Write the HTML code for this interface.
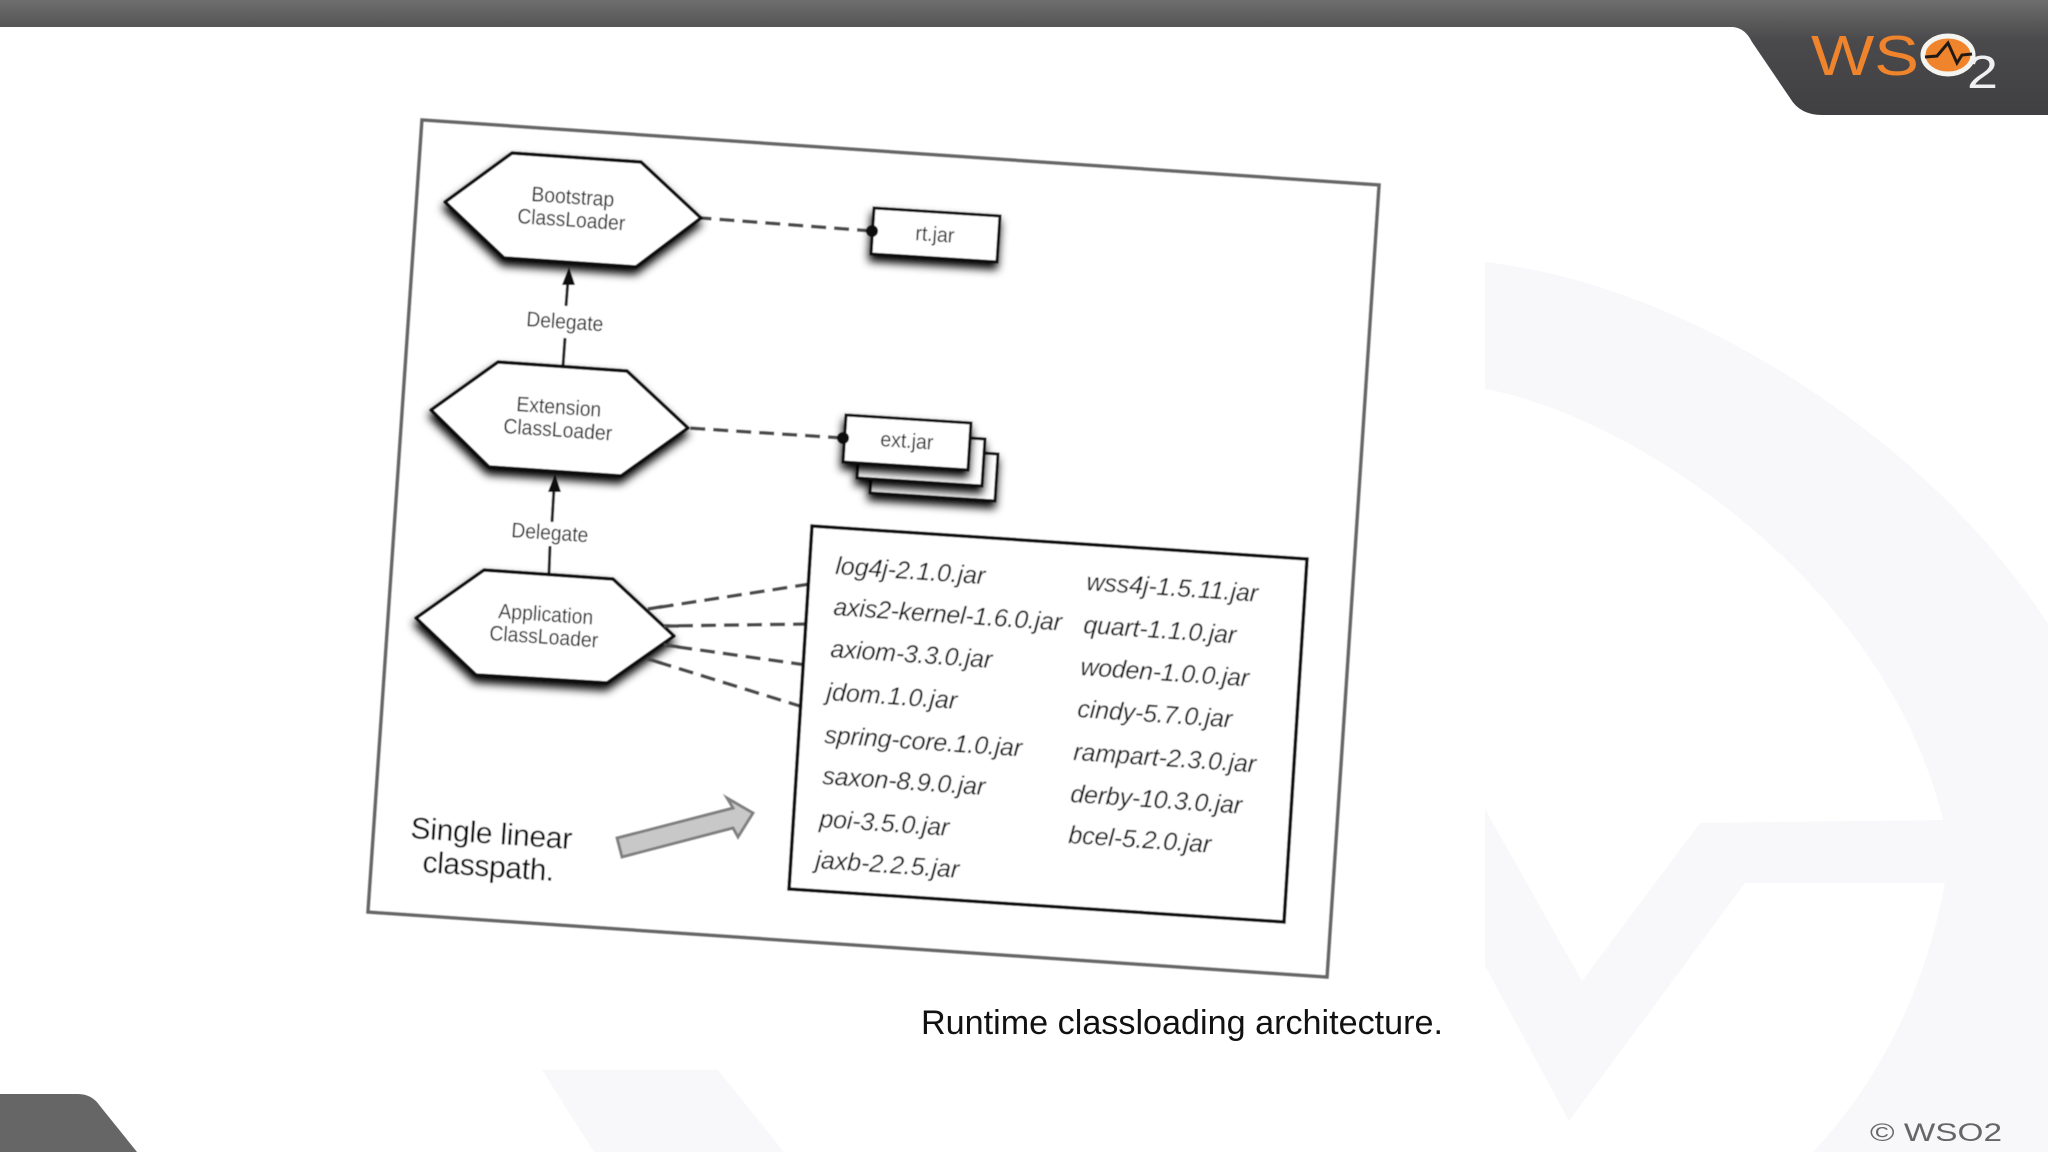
<!DOCTYPE html>
<html>
<head>
<meta charset="utf-8">
<title>Runtime classloading architecture</title>
<style>
html,body{margin:0;padding:0;background:#fff;width:2048px;height:1152px;overflow:hidden}
svg{display:block}
text{font-family:"Liberation Sans",sans-serif}
.lbl{font-size:21px;fill:#222}
.jar{font-size:25px;font-style:italic;fill:#111}
.hex{fill:#fff;stroke:#0a0a0a;stroke-width:3.5;stroke-linejoin:round}
.box{fill:#fff;stroke:#0a0a0a;stroke-width:3}
.dash{stroke:#4a4a4a;stroke-width:3.5;stroke-dasharray:15 8;fill:none}
</style>
</head>
<body>
<svg width="2048" height="1152" viewBox="0 0 2048 1152" xmlns="http://www.w3.org/2000/svg">
<defs>
<linearGradient id="corner" gradientUnits="userSpaceOnUse" x1="0" y1="0" x2="0" y2="115">
<stop offset="0" stop-color="#6e6e6e"/><stop offset=".35" stop-color="#4a494b"/><stop offset="1" stop-color="#403f41"/>
</linearGradient>
<filter id="sh" x="-20%" y="-20%" width="140%" height="160%">
<feDropShadow dx="-1" dy="6" stdDeviation="4.5" flood-color="#000" flood-opacity="1"/>
</filter>
<filter id="soft" x="-5%" y="-5%" width="110%" height="110%"><feGaussianBlur stdDeviation=".55"/></filter>
</defs>

<!-- watermark -->
<g fill="#f8f8fa">
<path d="M1485 262 C1690 285 1930 440 2048 624 L2048 1152 L1813 1152 C1880 1080 1925 990 1945 883 L1745 883 L1569 1121 L1485 966 L1485 809 L1582 981 L1700 823 L1943 820 C1885 580 1630 415 1485 389 Z"/>
<polygon points="542,1070 718,1070 784,1152 594,1152"/>
</g>

<!-- header -->
<rect x="0" y="0" width="2048" height="27" fill="url(#corner)"/>
<path d="M1733 27 Q1745 28 1752 42 L1790 98 Q1800 115 1822 115 L2048 115 L2048 0 L1700 0 L1700 27 Z" fill="url(#corner)"/>

<!-- logo -->
<text x="1811" y="75" font-size="57" fill="#f0842c" textLength="108" lengthAdjust="spacingAndGlyphs">WS</text>
<ellipse cx="1948" cy="55" rx="25" ry="19" fill="#f0842c" stroke="#f4f4f0" stroke-width="5"/>
<polyline points="1925,57 1937,56 1948,43 1957,63 1962,55 1972,54" fill="none" stroke="#221a14" stroke-width="3"/>
<text x="1967" y="88" font-size="46" fill="#f0f0f0" textLength="31" lengthAdjust="spacingAndGlyphs">2</text>

<!-- footer -->
<path d="M0 1094 L78 1094 Q92 1094 100 1106 L137 1152 L0 1152 Z" fill="#666"/>
<text x="1870" y="1141" font-size="25" fill="#666" textLength="132" lengthAdjust="spacingAndGlyphs">© WSO2</text>

<!-- diagram -->
<g filter="url(#soft)">
<polygon points="422,120 1379,185 1327,977 368,912" fill="#fff" stroke="#666" stroke-width="3.5"/>

<!-- connectors (drawn from far end so a dash meets the target) -->
<line x1="872" y1="231" x2="701" y2="218" class="dash"/>
<line x1="843" y1="438" x2="688" y2="428" class="dash"/>
<line x1="810" y1="584" x2="648" y2="609" class="dash"/>
<line x1="808" y1="624" x2="664" y2="626" class="dash"/>
<line x1="806" y1="665" x2="664" y2="645" class="dash"/>
<line x1="803" y1="707" x2="648" y2="659" class="dash"/>

<!-- arrows -->
<line x1="566" y1="306" x2="568" y2="280" stroke="#222" stroke-width="3"/>
<line x1="563" y1="366" x2="565" y2="338" stroke="#222" stroke-width="3"/>
<polygon points="569,267 575,285 562,285" fill="#111"/>
<line x1="552" y1="522" x2="554" y2="488" stroke="#222" stroke-width="3"/>
<line x1="549" y1="573" x2="550" y2="546" stroke="#222" stroke-width="3"/>
<polygon points="555,474 561,492 548,492" fill="#111"/>

<!-- hexagons -->
<polygon class="hex" filter="url(#sh)" points="445,202 512,153 641,162 701,218 636,267 504,258"/>
<polygon class="hex" filter="url(#sh)" points="431,410 498,362 627,371 688,428 621,476 489,467"/>
<polygon class="hex" filter="url(#sh)" points="416,618 484,570 613,579 674,636 607,683 476,675"/>

<!-- app dashes over the hexagon edge -->
<line x1="648" y1="609" x2="672" y2="605" class="dash"/>
<line x1="664" y1="626" x2="680" y2="626" class="dash"/>
<line x1="664" y1="645" x2="680" y2="647" class="dash"/>
<line x1="648" y1="659" x2="664" y2="664" class="dash"/>

<!-- jars -->
<polygon class="box" filter="url(#sh)" points="874,208 1000,216 997,262 871,254"/>
<circle cx="872" cy="231" r="6" fill="#111"/>
<polygon class="box" filter="url(#sh)" points="873,446 998,454 995,501 870,493"/>
<polygon class="box" filter="url(#sh)" points="860,431 985,439 982,486 857,478"/>
<polygon class="box" filter="url(#sh)" points="846,415 971,423 968,470 843,462"/>
<circle cx="843" cy="438" r="6" fill="#111"/>

<!-- classpath box -->
<polygon points="812,526 1307,559 1284,922 789,889" fill="#fff" stroke="#0a0a0a" stroke-width="3.5"/>

<!-- gray arrow -->
<polygon points="617,838 733,808 727,798 753,813 738,837 733,828 622,857" fill="#c8c8c8" stroke="#808080" stroke-width="3"/>

<!-- hex labels -->
<text class="lbl" x="531" y="201" transform="rotate(3.9 531 201)" textLength="83" lengthAdjust="spacingAndGlyphs">Bootstrap</text>
<text class="lbl" x="517" y="223" transform="rotate(3.9 517 223)" textLength="108" lengthAdjust="spacingAndGlyphs">ClassLoader</text>
<text class="lbl" x="516" y="411" transform="rotate(3.9 516 411)" textLength="85" lengthAdjust="spacingAndGlyphs">Extension</text>
<text class="lbl" x="503" y="433" transform="rotate(3.9 503 433)" textLength="109" lengthAdjust="spacingAndGlyphs">ClassLoader</text>
<text class="lbl" x="498" y="618" transform="rotate(3.9 498 618)" textLength="95" lengthAdjust="spacingAndGlyphs">Application</text>
<text class="lbl" x="489" y="640" transform="rotate(3.9 489 640)" textLength="109" lengthAdjust="spacingAndGlyphs">ClassLoader</text>
<text class="lbl" x="915" y="240" transform="rotate(3.9 915 240)" textLength="39" lengthAdjust="spacingAndGlyphs">rt.jar</text>
<text class="lbl" x="880" y="446" transform="rotate(3.9 880 446)" textLength="53" lengthAdjust="spacingAndGlyphs">ext.jar</text>
<text class="lbl" x="526" y="326" transform="rotate(3.9 526 326)" textLength="77" lengthAdjust="spacingAndGlyphs">Delegate</text>
<text class="lbl" x="511" y="537" transform="rotate(3.9 511 537)" textLength="77" lengthAdjust="spacingAndGlyphs">Delegate</text>

<!-- jar list -->
<text class="jar" x="835" y="574" transform="rotate(3.9 835 574)" textLength="150">log4j-2.1.0.jar</text>
<text class="jar" x="833" y="615" transform="rotate(3.9 833 615)" textLength="229">axis2-kernel-1.6.0.jar</text>
<text class="jar" x="830" y="657" transform="rotate(3.9 830 657)" textLength="162">axiom-3.3.0.jar</text>
<text class="jar" x="826" y="700" transform="rotate(3.9 826 700)" textLength="131">jdom.1.0.jar</text>
<text class="jar" x="824" y="743" transform="rotate(3.9 824 743)" textLength="198">spring-core.1.0.jar</text>
<text class="jar" x="822" y="784" transform="rotate(3.9 822 784)" textLength="163">saxon-8.9.0.jar</text>
<text class="jar" x="819" y="827" transform="rotate(3.9 819 827)" textLength="130">poi-3.5.0.jar</text>
<text class="jar" x="815" y="868" transform="rotate(3.9 815 868)" textLength="144">jaxb-2.2.5.jar</text>
<text class="jar" x="1086" y="590" transform="rotate(3.9 1086 590)" textLength="172">wss4j-1.5.11.jar</text>
<text class="jar" x="1083" y="633" transform="rotate(3.9 1083 633)" textLength="153">quart-1.1.0.jar</text>
<text class="jar" x="1080" y="675" transform="rotate(3.9 1080 675)" textLength="169">woden-1.0.0.jar</text>
<text class="jar" x="1077" y="717" transform="rotate(3.9 1077 717)" textLength="155">cindy-5.7.0.jar</text>
<text class="jar" x="1073" y="760" transform="rotate(3.9 1073 760)" textLength="183">rampart-2.3.0.jar</text>
<text class="jar" x="1070" y="802" transform="rotate(3.9 1070 802)" textLength="172">derby-10.3.0.jar</text>
<text class="jar" x="1068" y="843" transform="rotate(3.9 1068 843)" textLength="143">bcel-5.2.0.jar</text>

<text x="410" y="838" transform="rotate(3.9 410 838)" font-size="30" fill="#000" textLength="162">Single linear</text>
<text x="422" y="872" transform="rotate(3.9 422 872)" font-size="30" fill="#000" textLength="132">classpath.</text>
</g>

<text x="921" y="1034" font-size="34" fill="#111" textLength="522" lengthAdjust="spacingAndGlyphs">Runtime classloading architecture.</text>
</svg>
</body>
</html>
